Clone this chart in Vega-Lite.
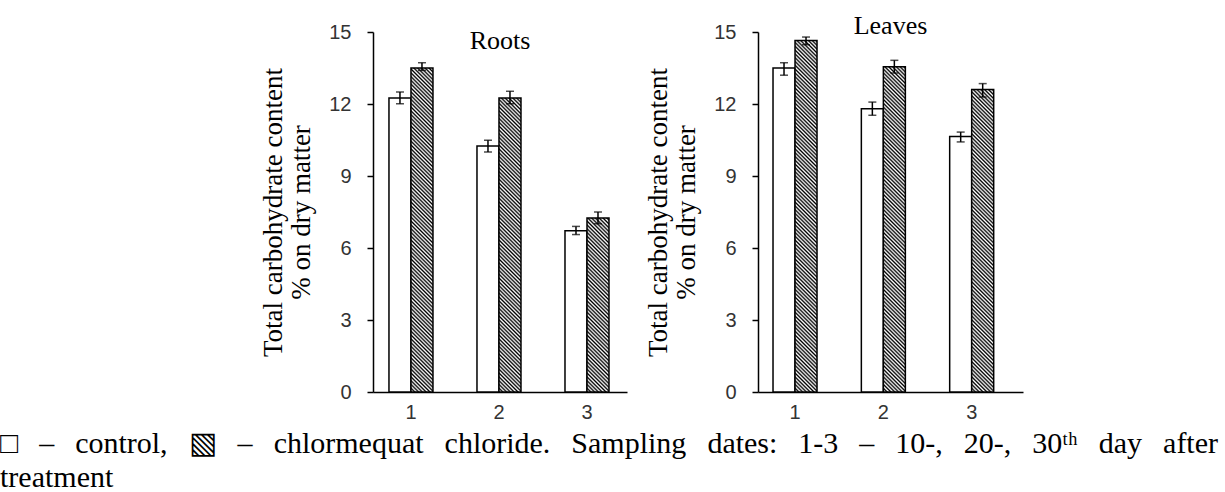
{
"$schema": "https://vega.github.io/schema/vega-lite/v6.json",
"background": "white",
"padding": {"left": 0, "top": 13, "right": 0, "bottom": 0},
"config": {"view": {"stroke": null}, "font": "Liberation Serif"},
"params": [{"name": "hs", "value": [
{"offset":0,"color":"#000"},{"offset":0.005,"color":"#fff"},{"offset":0.01,"color":"#000"},{"offset":0.015,"color":"#fff"},{"offset":0.02,"color":"#000"},{"offset":0.025,"color":"#fff"},{"offset":0.03,"color":"#000"},{"offset":0.035,"color":"#fff"},{"offset":0.04,"color":"#000"},{"offset":0.045,"color":"#fff"},
{"offset":0.05,"color":"#000"},{"offset":0.055,"color":"#fff"},{"offset":0.06,"color":"#000"},{"offset":0.065,"color":"#fff"},{"offset":0.07,"color":"#000"},{"offset":0.075,"color":"#fff"},{"offset":0.08,"color":"#000"},{"offset":0.085,"color":"#fff"},{"offset":0.09,"color":"#000"},{"offset":0.095,"color":"#fff"},
{"offset":0.1,"color":"#000"},{"offset":0.105,"color":"#fff"},{"offset":0.11,"color":"#000"},{"offset":0.115,"color":"#fff"},{"offset":0.12,"color":"#000"},{"offset":0.125,"color":"#fff"},{"offset":0.13,"color":"#000"},{"offset":0.135,"color":"#fff"},{"offset":0.14,"color":"#000"},{"offset":0.145,"color":"#fff"},
{"offset":0.15,"color":"#000"},{"offset":0.155,"color":"#fff"},{"offset":0.16,"color":"#000"},{"offset":0.165,"color":"#fff"},{"offset":0.17,"color":"#000"},{"offset":0.175,"color":"#fff"},{"offset":0.18,"color":"#000"},{"offset":0.185,"color":"#fff"},{"offset":0.19,"color":"#000"},{"offset":0.195,"color":"#fff"},
{"offset":0.2,"color":"#000"},{"offset":0.205,"color":"#fff"},{"offset":0.21,"color":"#000"},{"offset":0.215,"color":"#fff"},{"offset":0.22,"color":"#000"},{"offset":0.225,"color":"#fff"},{"offset":0.23,"color":"#000"},{"offset":0.235,"color":"#fff"},{"offset":0.24,"color":"#000"},{"offset":0.245,"color":"#fff"},
{"offset":0.25,"color":"#000"},{"offset":0.255,"color":"#fff"},{"offset":0.26,"color":"#000"},{"offset":0.265,"color":"#fff"},{"offset":0.27,"color":"#000"},{"offset":0.275,"color":"#fff"},{"offset":0.28,"color":"#000"},{"offset":0.285,"color":"#fff"},{"offset":0.29,"color":"#000"},{"offset":0.295,"color":"#fff"},
{"offset":0.3,"color":"#000"},{"offset":0.305,"color":"#fff"},{"offset":0.31,"color":"#000"},{"offset":0.315,"color":"#fff"},{"offset":0.32,"color":"#000"},{"offset":0.325,"color":"#fff"},{"offset":0.33,"color":"#000"},{"offset":0.335,"color":"#fff"},{"offset":0.34,"color":"#000"},{"offset":0.345,"color":"#fff"},
{"offset":0.35,"color":"#000"},{"offset":0.355,"color":"#fff"},{"offset":0.36,"color":"#000"},{"offset":0.365,"color":"#fff"},{"offset":0.37,"color":"#000"},{"offset":0.375,"color":"#fff"},{"offset":0.38,"color":"#000"},{"offset":0.385,"color":"#fff"},{"offset":0.39,"color":"#000"},{"offset":0.395,"color":"#fff"},
{"offset":0.4,"color":"#000"},{"offset":0.405,"color":"#fff"},{"offset":0.41,"color":"#000"},{"offset":0.415,"color":"#fff"},{"offset":0.42,"color":"#000"},{"offset":0.425,"color":"#fff"},{"offset":0.43,"color":"#000"},{"offset":0.435,"color":"#fff"},{"offset":0.44,"color":"#000"},{"offset":0.445,"color":"#fff"},
{"offset":0.45,"color":"#000"},{"offset":0.455,"color":"#fff"},{"offset":0.46,"color":"#000"},{"offset":0.465,"color":"#fff"},{"offset":0.47,"color":"#000"},{"offset":0.475,"color":"#fff"},{"offset":0.48,"color":"#000"},{"offset":0.485,"color":"#fff"},{"offset":0.49,"color":"#000"},{"offset":0.495,"color":"#fff"},
{"offset":0.5,"color":"#000"},{"offset":0.505,"color":"#fff"},{"offset":0.51,"color":"#000"},{"offset":0.515,"color":"#fff"},{"offset":0.52,"color":"#000"},{"offset":0.525,"color":"#fff"},{"offset":0.53,"color":"#000"},{"offset":0.535,"color":"#fff"},{"offset":0.54,"color":"#000"},{"offset":0.545,"color":"#fff"},
{"offset":0.55,"color":"#000"},{"offset":0.555,"color":"#fff"},{"offset":0.56,"color":"#000"},{"offset":0.565,"color":"#fff"},{"offset":0.57,"color":"#000"},{"offset":0.575,"color":"#fff"},{"offset":0.58,"color":"#000"},{"offset":0.585,"color":"#fff"},{"offset":0.59,"color":"#000"},{"offset":0.595,"color":"#fff"},
{"offset":0.6,"color":"#000"},{"offset":0.605,"color":"#fff"},{"offset":0.61,"color":"#000"},{"offset":0.615,"color":"#fff"},{"offset":0.62,"color":"#000"},{"offset":0.625,"color":"#fff"},{"offset":0.63,"color":"#000"},{"offset":0.635,"color":"#fff"},{"offset":0.64,"color":"#000"},{"offset":0.645,"color":"#fff"},
{"offset":0.65,"color":"#000"},{"offset":0.655,"color":"#fff"},{"offset":0.66,"color":"#000"},{"offset":0.665,"color":"#fff"},{"offset":0.67,"color":"#000"},{"offset":0.675,"color":"#fff"},{"offset":0.68,"color":"#000"},{"offset":0.685,"color":"#fff"},{"offset":0.69,"color":"#000"},{"offset":0.695,"color":"#fff"},
{"offset":0.7,"color":"#000"},{"offset":0.705,"color":"#fff"},{"offset":0.71,"color":"#000"},{"offset":0.715,"color":"#fff"},{"offset":0.72,"color":"#000"},{"offset":0.725,"color":"#fff"},{"offset":0.73,"color":"#000"},{"offset":0.735,"color":"#fff"},{"offset":0.74,"color":"#000"},{"offset":0.745,"color":"#fff"},
{"offset":0.75,"color":"#000"},{"offset":0.755,"color":"#fff"},{"offset":0.76,"color":"#000"},{"offset":0.765,"color":"#fff"},{"offset":0.77,"color":"#000"},{"offset":0.775,"color":"#fff"},{"offset":0.78,"color":"#000"},{"offset":0.785,"color":"#fff"},{"offset":0.79,"color":"#000"},{"offset":0.795,"color":"#fff"},
{"offset":0.8,"color":"#000"},{"offset":0.805,"color":"#fff"},{"offset":0.81,"color":"#000"},{"offset":0.815,"color":"#fff"},{"offset":0.82,"color":"#000"},{"offset":0.825,"color":"#fff"},{"offset":0.83,"color":"#000"},{"offset":0.835,"color":"#fff"},{"offset":0.84,"color":"#000"},{"offset":0.845,"color":"#fff"},
{"offset":0.85,"color":"#000"},{"offset":0.855,"color":"#fff"},{"offset":0.86,"color":"#000"},{"offset":0.865,"color":"#fff"},{"offset":0.87,"color":"#000"},{"offset":0.875,"color":"#fff"},{"offset":0.88,"color":"#000"},{"offset":0.885,"color":"#fff"},{"offset":0.89,"color":"#000"},{"offset":0.895,"color":"#fff"},
{"offset":0.9,"color":"#000"},{"offset":0.905,"color":"#fff"},{"offset":0.91,"color":"#000"},{"offset":0.915,"color":"#fff"},{"offset":0.92,"color":"#000"},{"offset":0.925,"color":"#fff"},{"offset":0.93,"color":"#000"},{"offset":0.935,"color":"#fff"},{"offset":0.94,"color":"#000"},{"offset":0.945,"color":"#fff"},
{"offset":0.95,"color":"#000"},{"offset":0.955,"color":"#fff"},{"offset":0.96,"color":"#000"},{"offset":0.965,"color":"#fff"},{"offset":0.97,"color":"#000"},{"offset":0.975,"color":"#fff"},{"offset":0.98,"color":"#000"},{"offset":0.985,"color":"#fff"},{"offset":0.99,"color":"#000"},{"offset":0.995,"color":"#fff"},
{"offset":1,"color":"#000"}
]}],
"title": {"text": ["□ \u2005\u2009– \u2005\u2009control, \u2005\u2009▧ \u2005\u2009– \u2005\u2009chlormequat \u2005\u2009chloride. \u2005\u2009Sampling \u2005\u2009dates: \u2005\u20091-3 \u2005\u2009– \u2005\u200910-, \u2005\u200920-, \u2005\u200930ᵗʰ \u2005\u2009day \u2005\u2009after", "treatment"], "orient": "bottom", "anchor": "start", "frame": "group", "font": "Liberation Serif", "fontSize": 30, "fontWeight": "normal", "color": "black", "baseline": "alphabetic", "lineHeight": 34, "offset": 31, "dx": -373},
"data": {"values": [
{"p":"Roots","d":"1","t":"control","v":12.25,"lo":12.01,"hi":12.5},
{"p":"Roots","d":"1","t":"chlormequat chloride","v":13.5,"lo":13.4,"hi":13.72},
{"p":"Roots","d":"2","t":"control","v":10.25,"lo":10.0,"hi":10.49},
{"p":"Roots","d":"2","t":"chlormequat chloride","v":12.25,"lo":12.01,"hi":12.53},
{"p":"Roots","d":"3","t":"control","v":6.72,"lo":6.56,"hi":6.9},
{"p":"Roots","d":"3","t":"chlormequat chloride","v":7.25,"lo":7.01,"hi":7.5},
{"p":"Leaves","d":"1","t":"control","v":13.5,"lo":13.2,"hi":13.72},
{"p":"Leaves","d":"1","t":"chlormequat chloride","v":14.65,"lo":14.47,"hi":14.79},
{"p":"Leaves","d":"2","t":"control","v":11.8,"lo":11.53,"hi":12.08},
{"p":"Leaves","d":"2","t":"chlormequat chloride","v":13.55,"lo":13.29,"hi":13.82},
{"p":"Leaves","d":"3","t":"control","v":10.65,"lo":10.42,"hi":10.83},
{"p":"Leaves","d":"3","t":"chlormequat chloride","v":12.6,"lo":12.29,"hi":12.85}
]},
"bounds": "flush",
"spacing": 131,
"hconcat": [
{
"width": 254, "height": 360,
"title": {"text": "Roots", "orient": "top", "anchor": "middle", "frame": "group", "offset": -53, "baseline": "alphabetic", "font": "Liberation Serif", "fontSize": 26, "fontWeight": "normal", "color": "black"},
"transform": [{"filter": "datum.p == 'Roots'"}],
"encoding": {
"x": {"field": "d", "type": "nominal", "scale": {"paddingInner": 0.5, "paddingOuter": 0.193, "align": 0.47}, "axis": {"title": null, "labelAngle": 0, "ticks": false, "domainColor": "black", "domainWidth": 1.5, "labelFont": "Liberation Sans", "labelFontSize": 20, "labelColor": "#333", "labelPadding": 10}},
"xOffset": {"field": "t", "type": "nominal", "sort": ["control", "chlormequat chloride"], "scale": {"paddingInner": 0, "paddingOuter": 0}}
},
"layer": [
{"mark": {"type": "bar", "stroke": "black", "strokeWidth": 1.5},
 "encoding": {
 "y": {"field": "v", "type": "quantitative", "scale": {"domain": [0, 15], "nice": false}, "axis": {"values": [0,3,6,9,12,15], "grid": false, "tickSize": 6, "tickColor": "black", "tickWidth": 1.5, "domainColor": "black", "domainWidth": 1.5, "labelFont": "Liberation Sans", "labelFontSize": 20, "labelColor": "#333", "labelPadding": 16, "title": ["Total carbohydrate content", "% on dry matter"], "titleFont": "Liberation Serif", "titleFontSize": 27, "titleFontWeight": "normal", "titleColor": "black", "titleLineHeight": 28, "titlePadding": 13}},
 "fill": {"condition": [
  {"test": "datum.t == 'chlormequat chloride' && datum.d == '1'", "value": {"expr": "{gradient: 'linear', x1: 0, y1: 1, x2: 0.0793, y2: -0.1675, stops: hs}"}},
  {"test": "datum.t == 'chlormequat chloride' && datum.d == '2'", "value": {"expr": "{gradient: 'linear', x1: 0, y1: 1, x2: 0.0962, y2: -0.2853, stops: hs}"}},
  {"test": "datum.t == 'chlormequat chloride' && datum.d == '3'", "value": {"expr": "{gradient: 'linear', x1: 0, y1: 1, x2: 0.2718, y2: -1.1495, stops: hs}"}}
 ], "value": "white"}
 }},
{"mark": {"type": "rule", "strokeWidth": 1.5, "color": "black"}, "encoding": {"y": {"field": "lo", "type": "quantitative"}, "y2": {"field": "hi"}}},
{"mark": {"type": "tick", "orient": "horizontal", "size": 8, "thickness": 1.5, "color": "black"}, "encoding": {"y": {"field": "lo", "type": "quantitative"}}},
{"mark": {"type": "tick", "orient": "horizontal", "size": 8, "thickness": 1.5, "color": "black"}, "encoding": {"y": {"field": "hi", "type": "quantitative"}}}
]
},
{
"width": 265, "height": 360,
"title": {"text": "Leaves", "orient": "top", "anchor": "middle", "frame": "group", "offset": -38, "baseline": "alphabetic", "font": "Liberation Serif", "fontSize": 26, "fontWeight": "normal", "color": "black"},
"transform": [{"filter": "datum.p == 'Leaves'"}],
"encoding": {
"x": {"field": "d", "type": "nominal", "scale": {"paddingInner": 0.5, "paddingOuter": 0.25, "align": 0.34}, "axis": {"title": null, "labelAngle": 0, "ticks": false, "domainColor": "black", "domainWidth": 1.5, "labelFont": "Liberation Sans", "labelFontSize": 20, "labelColor": "#333", "labelPadding": 10}},
"xOffset": {"field": "t", "type": "nominal", "sort": ["control", "chlormequat chloride"], "scale": {"paddingInner": 0, "paddingOuter": 0}}
},
"layer": [
{"mark": {"type": "bar", "stroke": "black", "strokeWidth": 1.5},
 "encoding": {
 "y": {"field": "v", "type": "quantitative", "scale": {"domain": [0, 15], "nice": false}, "axis": {"values": [0,3,6,9,12,15], "grid": false, "tickSize": 6, "tickColor": "black", "tickWidth": 1.5, "domainColor": "black", "domainWidth": 1.5, "labelFont": "Liberation Sans", "labelFontSize": 20, "labelColor": "#333", "labelPadding": 16, "title": ["Total carbohydrate content", "% on dry matter"], "titleFont": "Liberation Serif", "titleFontSize": 27, "titleFontWeight": "normal", "titleColor": "black", "titleLineHeight": 28, "titlePadding": 13}},
 "fill": {"condition": [
  {"test": "datum.t == 'chlormequat chloride' && datum.d == '1'", "value": {"expr": "{gradient: 'linear', x1: 0, y1: 1, x2: 0.0674, y2: -0.0766, stops: hs}"}},
  {"test": "datum.t == 'chlormequat chloride' && datum.d == '2'", "value": {"expr": "{gradient: 'linear', x1: 0, y1: 1, x2: 0.0787, y2: -0.1632, stops: hs}"}},
  {"test": "datum.t == 'chlormequat chloride' && datum.d == '3'", "value": {"expr": "{gradient: 'linear', x1: 0, y1: 1, x2: 0.0909, y2: -0.25, stops: hs}"}}
 ], "value": "white"}
 }},
{"mark": {"type": "rule", "strokeWidth": 1.5, "color": "black"}, "encoding": {"y": {"field": "lo", "type": "quantitative"}, "y2": {"field": "hi"}}},
{"mark": {"type": "tick", "orient": "horizontal", "size": 8, "thickness": 1.5, "color": "black"}, "encoding": {"y": {"field": "lo", "type": "quantitative"}}},
{"mark": {"type": "tick", "orient": "horizontal", "size": 8, "thickness": 1.5, "color": "black"}, "encoding": {"y": {"field": "hi", "type": "quantitative"}}}
]
}
]
}
